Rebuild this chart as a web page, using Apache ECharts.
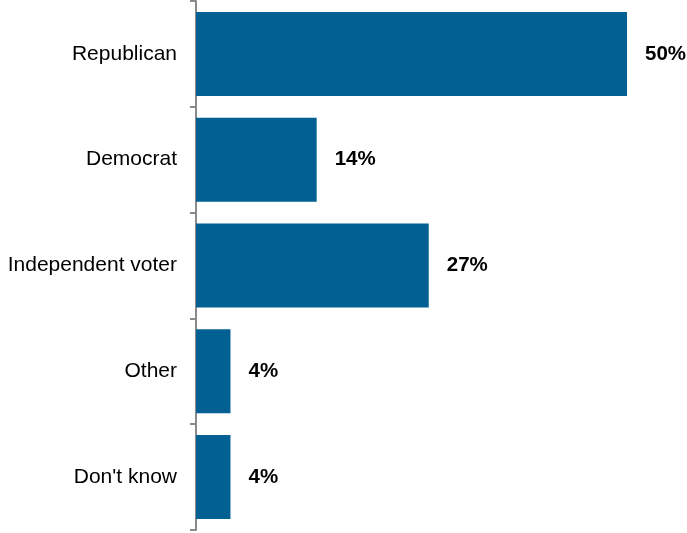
<!DOCTYPE html>
<html>
<head>
<meta charset="utf-8">
<script src="https://cdn.jsdelivr.net/npm/echarts@6/dist/echarts.min.js"></script>
<style>
html,body{margin:0;padding:0;background:#fff;}
#chart{width:687px;height:533px;}
</style>
</head>
<body>
<div id="chart"></div>
<script>
var categories = ["Republican", "Democrat", "Independent voter", "Other", "Don't know"];
var values = [50, 14, 27, 4, 4];

var chart = echarts.init(document.getElementById('chart'), null, {renderer: 'canvas'});
chart.setOption({
  animation: false,
  backgroundColor: '#ffffff',
  grid: {left: 196, top: 1, width: 431, bottom: 3, containLabel: false},
  xAxis: {
    type: 'value', min: 0, max: 50, show: false
  },
  yAxis: {
    type: 'category',
    data: categories,
    inverse: true,
    axisLine: {show: true, lineStyle: {color: '#8a8a8a', width: 2}},
    axisTick: {show: true, length: 6, lineStyle: {color: '#8a8a8a', width: 2}},
    axisLabel: {
      margin: 19,
      color: '#000000',
      fontFamily: '"Liberation Sans", Arial, sans-serif',
      fontSize: 21
    },
    splitLine: {show: false}
  },
  series: [{
    type: 'bar',
    data: values,
    barCategoryGap: '20.6%',
    itemStyle: {color: '#026192'},
    label: {
      show: true,
      position: 'right',
      distance: 18,
      formatter: '{c}%',
      color: '#000000',
      fontWeight: 'bold',
      fontFamily: '"Liberation Sans", Arial, sans-serif',
      fontSize: 20.5
    }
  }]
});
</script>
</body>
</html>
